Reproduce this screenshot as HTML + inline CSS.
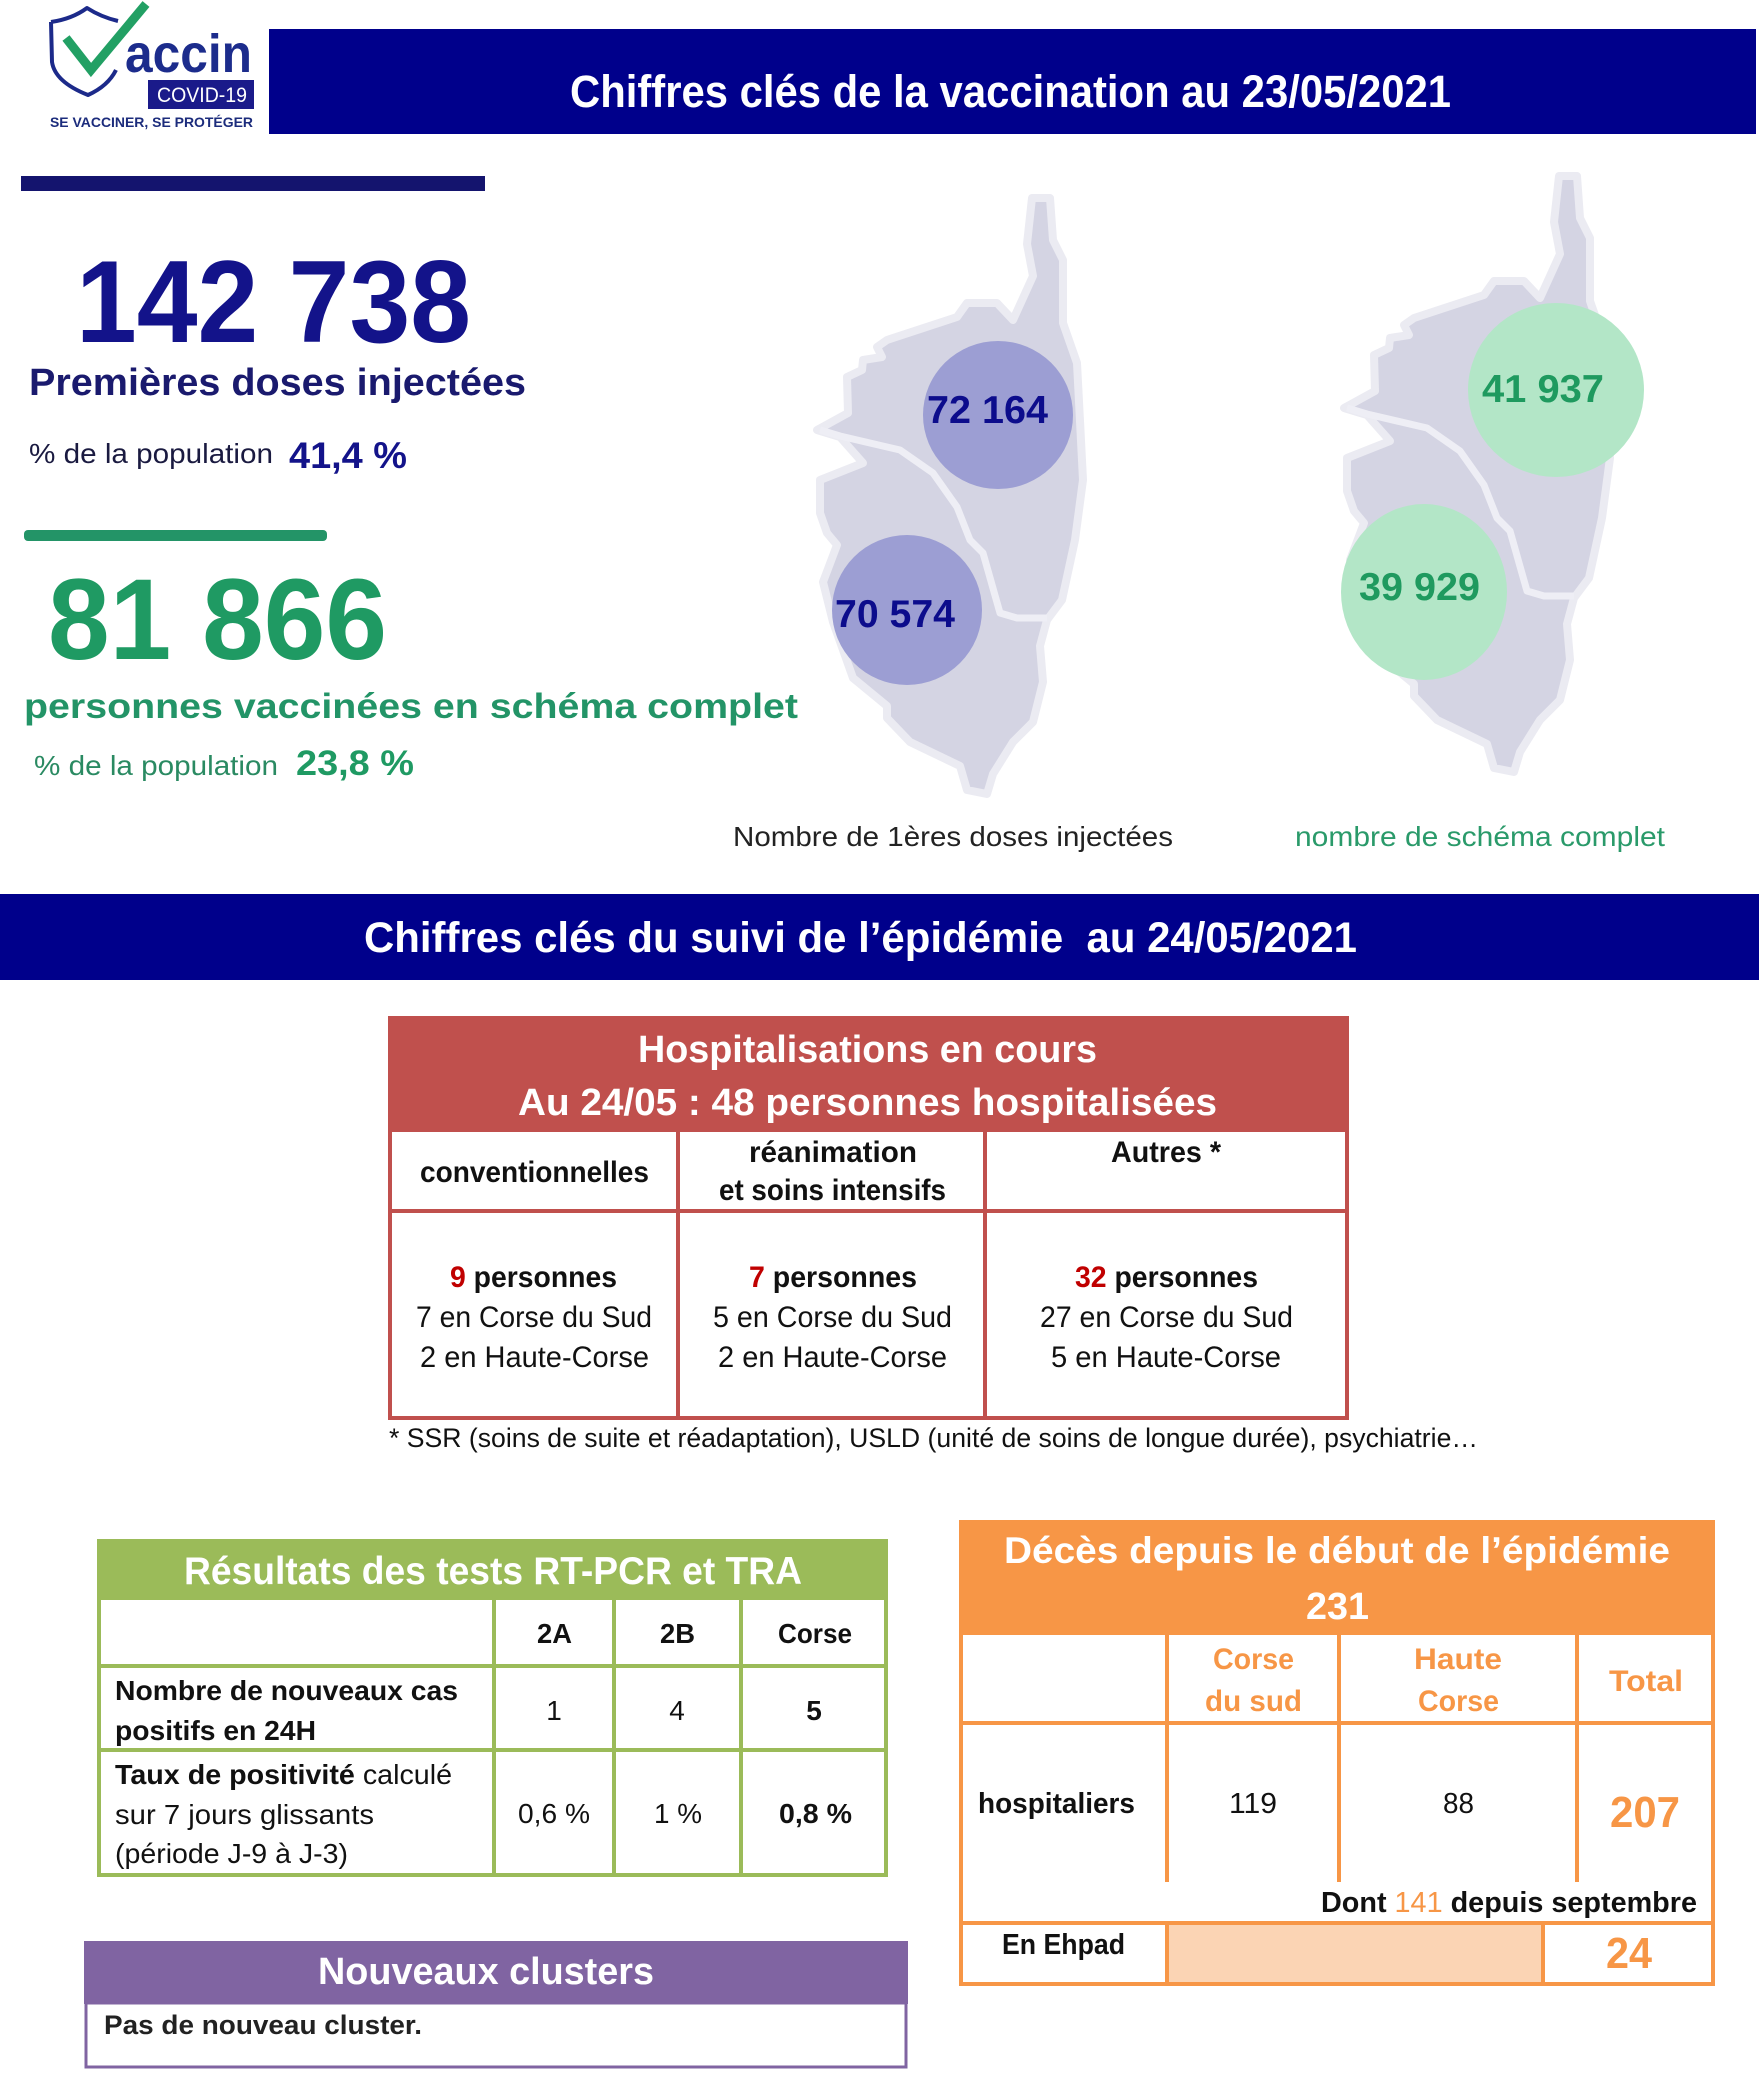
<!DOCTYPE html>
<html>
<head>
<meta charset="utf-8">
<style>
html,body{margin:0;padding:0;background:#fff;}
body{width:1759px;height:2077px;overflow:hidden;}
svg{display:block;}
text{font-family:"Liberation Sans",Arial,sans-serif;}
</style>
</head>
<body>
<svg width="1759" height="2077" viewBox="0 0 1759 2077" xmlns="http://www.w3.org/2000/svg">
<rect x="0" y="0" width="1759" height="2077" fill="#ffffff"/>

<!-- LOGO -->
<path d="M51,22 Q72,19 87,8 Q101,17 118,21" fill="none" stroke="#1c2a8a" stroke-width="4" stroke-linejoin="round"/>
<path d="M51,22 L52,62 Q55,82 88,95 Q108,86 116,70" fill="none" stroke="#1c2a8a" stroke-width="4" stroke-linejoin="round"/>
<path d="M66,38 L91,70 L146,4" fill="none" stroke="#22a064" stroke-width="9" stroke-linejoin="miter"/>
<text x="125" y="72" font-size="54" font-weight="bold" fill="#1c2c8c" textLength="127" lengthAdjust="spacingAndGlyphs">accin</text>
<rect x="148" y="80" width="106" height="29" fill="#1a1a8a"/>
<text x="157" y="102" font-size="21" fill="#ffffff" textLength="90" lengthAdjust="spacingAndGlyphs">COVID-19</text>
<text x="50" y="127" font-size="14" font-weight="bold" fill="#1c2c7c" textLength="203" lengthAdjust="spacingAndGlyphs">SE VACCINER, SE PROTÉGER</text>

<!-- TOP BANNER -->
<rect x="269" y="29" width="1487" height="105" fill="#00008b"/>
<text x="570" y="107" font-size="45" font-weight="bold" fill="#ffffff" textLength="881" lengthAdjust="spacingAndGlyphs">Chiffres clés de la vaccination au 23/05/2021</text>

<!-- LEFT KEY FIGURES -->
<rect x="21" y="176" width="464" height="15" fill="#14146e"/>
<text x="76" y="342" font-size="117" font-weight="bold" fill="#13138a" textLength="395" lengthAdjust="spacingAndGlyphs">142 738</text>
<text x="29" y="395" font-size="38" font-weight="bold" fill="#1a1a6e" textLength="497" lengthAdjust="spacingAndGlyphs">Premières doses injectées</text>
<text x="29" y="463" font-size="28" fill="#1a1a40" textLength="244" lengthAdjust="spacingAndGlyphs">% de la population</text>
<text x="289" y="468" font-size="37" font-weight="bold" fill="#13138a" textLength="118" lengthAdjust="spacingAndGlyphs">41,4 %</text>

<rect x="24" y="530" width="303" height="11" rx="4" fill="#239467"/>
<text x="48" y="659" font-size="115" font-weight="bold" fill="#1f9a63" textLength="339" lengthAdjust="spacingAndGlyphs">81 866</text>
<text x="24" y="718" font-size="35" font-weight="bold" fill="#239467" textLength="774" lengthAdjust="spacingAndGlyphs">personnes vaccinées en schéma complet</text>
<text x="34" y="775" font-size="28" fill="#2a8a62" textLength="244" lengthAdjust="spacingAndGlyphs">% de la population</text>
<text x="296" y="775" font-size="35" font-weight="bold" fill="#1f9a63" textLength="118" lengthAdjust="spacingAndGlyphs">23,8 %</text>

<!-- MAP 1 -->
<g>
<path d="M1032,198 L1027,244 L1033,276 L1013,320 L997,303 L967,303 L957,317 L887,340 L877,347 L882,357 L863,360 L862,370 L847,377 L848,413 L817,430 L840,437 L863,463 L820,480 L820,513 L827,533 L837,545 L823,582 L833,622 L853,678 L887,706 L887,718 L910,742 L960,766 L967,790 L987,794 L993,774 L1013,742 L1033,722 L1043,682 L1040,646 L1047,620 L1062,600 L1075,540 L1083,480 L1080,421 L1077,363 L1063,323 L1063,260 L1053,240 L1050,198 Z" fill="#d4d4e3" stroke="#ebebf2" stroke-width="8" stroke-linejoin="round"/>
<path d="M820,430 L840,436 L900,450 L933,473 L957,507 L970,540 L983,553 L1000,613 L1017,618 L1047,618" fill="none" stroke="#eeeef5" stroke-width="7" stroke-linejoin="round"/>
</g>
<g transform="translate(527,-22)">
<path d="M1032,198 L1027,244 L1033,276 L1013,320 L997,303 L967,303 L957,317 L887,340 L877,347 L882,357 L863,360 L862,370 L847,377 L848,413 L817,430 L840,437 L863,463 L820,480 L820,513 L827,533 L837,545 L823,582 L833,622 L853,678 L887,706 L887,718 L910,742 L960,766 L967,790 L987,794 L993,774 L1013,742 L1033,722 L1043,682 L1040,646 L1047,620 L1062,600 L1075,540 L1083,480 L1080,421 L1077,363 L1063,323 L1063,260 L1053,240 L1050,198 Z" fill="#d4d4e3" stroke="#ebebf2" stroke-width="8" stroke-linejoin="round"/>
<path d="M820,430 L840,436 L900,450 L933,473 L957,507 L970,540 L983,553 L1000,613 L1017,618 L1047,618" fill="none" stroke="#eeeef5" stroke-width="7" stroke-linejoin="round"/>
</g>

<ellipse cx="998" cy="415" rx="75" ry="74" fill="#9c9ed3"/>
<ellipse cx="907" cy="610" rx="75" ry="75" fill="#9c9ed3"/>
<text x="927" y="423" font-size="39" font-weight="bold" fill="#0c0c8c" textLength="121" lengthAdjust="spacingAndGlyphs">72 164</text>
<text x="835" y="627" font-size="39" font-weight="bold" fill="#0c0c8c" textLength="120" lengthAdjust="spacingAndGlyphs">70 574</text>

<ellipse cx="1556" cy="390" rx="88" ry="87" fill="#b3e6c7"/>
<ellipse cx="1424" cy="592" rx="83" ry="88" fill="#b3e6c7"/>
<text x="1482" y="402" font-size="39" font-weight="bold" fill="#1f9a5f" textLength="122" lengthAdjust="spacingAndGlyphs">41 937</text>
<text x="1359" y="600" font-size="39" font-weight="bold" fill="#1f9a5f" textLength="121" lengthAdjust="spacingAndGlyphs">39 929</text>

<text x="733" y="846" font-size="28" fill="#222222" textLength="440" lengthAdjust="spacingAndGlyphs">Nombre de 1ères doses injectées</text>
<text x="1295" y="846" font-size="28" fill="#2a9a6a" textLength="370" lengthAdjust="spacingAndGlyphs">nombre de schéma complet</text>

<!-- SECOND BANNER -->
<rect x="0" y="894" width="1759" height="86" fill="#00008b"/>
<text x="364" y="952" font-size="43" font-weight="bold" fill="#ffffff" textLength="993" lengthAdjust="spacingAndGlyphs">Chiffres clés du suivi de l’épidémie&#160; au 24/05/2021</text>

<!-- HOSPITALISATIONS TABLE -->
<rect x="388" y="1016" width="961" height="116" fill="#c0504d"/>
<rect x="390" y="1018" width="957" height="400" fill="none" stroke="#c0504d" stroke-width="4"/>
<line x1="388" y1="1211" x2="1349" y2="1211" stroke="#c0504d" stroke-width="4"/>
<line x1="678" y1="1132" x2="678" y2="1419" stroke="#c0504d" stroke-width="4"/>
<line x1="985" y1="1132" x2="985" y2="1419" stroke="#c0504d" stroke-width="4"/>
<text x="638" y="1062" font-size="38" font-weight="bold" fill="#ffffff" textLength="459" lengthAdjust="spacingAndGlyphs">Hospitalisations en cours</text>
<text x="518" y="1115" font-size="38" font-weight="bold" fill="#ffffff" textLength="699" lengthAdjust="spacingAndGlyphs">Au 24/05 : 48 personnes hospitalisées</text>
<text x="420" y="1182" font-size="30" font-weight="bold" fill="#111" textLength="229" lengthAdjust="spacingAndGlyphs">conventionnelles</text>
<text x="749" y="1162" font-size="30" font-weight="bold" fill="#111" textLength="168" lengthAdjust="spacingAndGlyphs">réanimation</text>
<text x="719" y="1200" font-size="30" font-weight="bold" fill="#111" textLength="227" lengthAdjust="spacingAndGlyphs">et soins intensifs</text>
<text x="1111" y="1162" font-size="30" font-weight="bold" fill="#111" textLength="110" lengthAdjust="spacingAndGlyphs">Autres *</text>

<text x="450" y="1287" font-size="30" font-weight="bold" fill="#111" textLength="167" lengthAdjust="spacingAndGlyphs"><tspan fill="#c00000">9</tspan> personnes</text>
<text x="416" y="1327" font-size="30" fill="#111" textLength="236" lengthAdjust="spacingAndGlyphs">7 en Corse du Sud</text>
<text x="420" y="1367" font-size="30" fill="#111" textLength="229" lengthAdjust="spacingAndGlyphs">2 en Haute-Corse</text>

<text x="749" y="1287" font-size="30" font-weight="bold" fill="#111" textLength="168" lengthAdjust="spacingAndGlyphs"><tspan fill="#c00000">7</tspan> personnes</text>
<text x="713" y="1327" font-size="30" fill="#111" textLength="239" lengthAdjust="spacingAndGlyphs">5 en Corse du Sud</text>
<text x="718" y="1367" font-size="30" fill="#111" textLength="229" lengthAdjust="spacingAndGlyphs">2 en Haute-Corse</text>

<text x="1075" y="1287" font-size="30" font-weight="bold" fill="#111" textLength="183" lengthAdjust="spacingAndGlyphs"><tspan fill="#c00000">32</tspan> personnes</text>
<text x="1040" y="1327" font-size="30" fill="#111" textLength="253" lengthAdjust="spacingAndGlyphs">27 en Corse du Sud</text>
<text x="1051" y="1367" font-size="30" fill="#111" textLength="230" lengthAdjust="spacingAndGlyphs">5 en Haute-Corse</text>

<text x="389" y="1447" font-size="27" fill="#111" textLength="1089" lengthAdjust="spacingAndGlyphs">* SSR (soins de suite et réadaptation), USLD (unité de soins de longue durée), psychiatrie…</text>

<!-- TESTS TABLE -->
<rect x="97" y="1539" width="791" height="61" fill="#9bbb59"/>
<rect x="99" y="1541" width="787" height="334" fill="none" stroke="#9bbb59" stroke-width="4"/>
<line x1="97" y1="1666" x2="888" y2="1666" stroke="#9bbb59" stroke-width="4"/>
<line x1="97" y1="1750" x2="888" y2="1750" stroke="#9bbb59" stroke-width="4"/>
<line x1="494" y1="1600" x2="494" y2="1876" stroke="#9bbb59" stroke-width="4"/>
<line x1="614" y1="1600" x2="614" y2="1876" stroke="#9bbb59" stroke-width="4"/>
<line x1="741" y1="1600" x2="741" y2="1876" stroke="#9bbb59" stroke-width="4"/>
<text x="184" y="1584" font-size="39" font-weight="bold" fill="#ffffff" textLength="618" lengthAdjust="spacingAndGlyphs">Résultats des tests RT-PCR et TRA</text>
<text x="537" y="1643" font-size="28" font-weight="bold" fill="#111" textLength="35" lengthAdjust="spacingAndGlyphs">2A</text>
<text x="660" y="1643" font-size="28" font-weight="bold" fill="#111" textLength="35" lengthAdjust="spacingAndGlyphs">2B</text>
<text x="778" y="1643" font-size="28" font-weight="bold" fill="#111" textLength="74" lengthAdjust="spacingAndGlyphs">Corse</text>
<text x="115" y="1700" font-size="28" font-weight="bold" fill="#111" textLength="343" lengthAdjust="spacingAndGlyphs">Nombre de nouveaux cas</text>
<text x="115" y="1740" font-size="28" font-weight="bold" fill="#111" textLength="201" lengthAdjust="spacingAndGlyphs">positifs en 24H</text>
<text x="554" y="1720" font-size="28" fill="#111" text-anchor="middle">1</text>
<text x="677" y="1720" font-size="28" fill="#111" text-anchor="middle">4</text>
<text x="814" y="1720" font-size="28" font-weight="bold" fill="#111" text-anchor="middle">5</text>
<text x="115" y="1784" font-size="28" fill="#111" textLength="337" lengthAdjust="spacingAndGlyphs"><tspan font-weight="bold">Taux de positivité</tspan> calculé</text>
<text x="115" y="1824" font-size="28" fill="#111" textLength="259" lengthAdjust="spacingAndGlyphs">sur 7 jours glissants</text>
<text x="115" y="1863" font-size="28" fill="#111" textLength="233" lengthAdjust="spacingAndGlyphs">(période J-9 à J-3)</text>
<text x="518" y="1823" font-size="28" fill="#111" textLength="72" lengthAdjust="spacingAndGlyphs">0,6 %</text>
<text x="654" y="1823" font-size="28" fill="#111" textLength="48" lengthAdjust="spacingAndGlyphs">1 %</text>
<text x="779" y="1823" font-size="28" font-weight="bold" fill="#111" textLength="73" lengthAdjust="spacingAndGlyphs">0,8 %</text>

<!-- CLUSTERS -->
<rect x="84" y="1941" width="824" height="63" fill="#8064a2"/>
<rect x="86" y="2003" width="820" height="64" fill="none" stroke="#8064a2" stroke-width="3"/>
<text x="318" y="1984" font-size="38" font-weight="bold" fill="#ffffff" textLength="336" lengthAdjust="spacingAndGlyphs">Nouveaux clusters</text>
<text x="104" y="2034" font-size="27" font-weight="bold" fill="#222" textLength="318" lengthAdjust="spacingAndGlyphs">Pas de nouveau cluster.</text>

<!-- DEATHS TABLE -->
<rect x="959" y="1520" width="756" height="115" fill="#f79646"/>
<rect x="1167" y="1923" width="376" height="62" fill="#fbd4b4"/>
<rect x="961" y="1522" width="752" height="462" fill="none" stroke="#f79646" stroke-width="4"/>
<line x1="959" y1="1723" x2="1715" y2="1723" stroke="#f79646" stroke-width="4"/>
<line x1="959" y1="1923" x2="1715" y2="1923" stroke="#f79646" stroke-width="4"/>
<line x1="1167" y1="1635" x2="1167" y2="1882" stroke="#f79646" stroke-width="4"/>
<line x1="1339" y1="1635" x2="1339" y2="1882" stroke="#f79646" stroke-width="4"/>
<line x1="1577" y1="1635" x2="1577" y2="1882" stroke="#f79646" stroke-width="4"/>
<line x1="1167" y1="1923" x2="1167" y2="1985" stroke="#f79646" stroke-width="4"/>
<line x1="1543" y1="1923" x2="1543" y2="1985" stroke="#f79646" stroke-width="4"/>
<text x="1004" y="1563" font-size="37" font-weight="bold" fill="#ffffff" textLength="666" lengthAdjust="spacingAndGlyphs">Décès depuis le début de l’épidémie</text>
<text x="1306" y="1619" font-size="38" font-weight="bold" fill="#ffffff" textLength="63" lengthAdjust="spacingAndGlyphs">231</text>
<text x="1213" y="1669" font-size="30" font-weight="bold" fill="#f79646" textLength="81" lengthAdjust="spacingAndGlyphs">Corse</text>
<text x="1205" y="1711" font-size="30" font-weight="bold" fill="#f79646" textLength="97" lengthAdjust="spacingAndGlyphs">du sud</text>
<text x="1414" y="1669" font-size="30" font-weight="bold" fill="#f79646" textLength="88" lengthAdjust="spacingAndGlyphs">Haute</text>
<text x="1418" y="1711" font-size="30" font-weight="bold" fill="#f79646" textLength="81" lengthAdjust="spacingAndGlyphs">Corse</text>
<text x="1609" y="1691" font-size="30" font-weight="bold" fill="#f79646" textLength="74" lengthAdjust="spacingAndGlyphs">Total</text>
<text x="978" y="1813" font-size="29" font-weight="bold" fill="#111" textLength="157" lengthAdjust="spacingAndGlyphs">hospitaliers</text>
<text x="1229" y="1813" font-size="29" fill="#111" textLength="48" lengthAdjust="spacingAndGlyphs">119</text>
<text x="1443" y="1813" font-size="29" fill="#111" textLength="31" lengthAdjust="spacingAndGlyphs">88</text>
<text x="1610" y="1827" font-size="44" font-weight="bold" fill="#f79646" textLength="70" lengthAdjust="spacingAndGlyphs">207</text>
<text x="1321" y="1912" font-size="29" font-weight="bold" fill="#111" textLength="376" lengthAdjust="spacingAndGlyphs">Dont <tspan fill="#f79646" font-weight="normal">141</tspan> depuis septembre</text>
<text x="1002" y="1954" font-size="29" font-weight="bold" fill="#111" textLength="123" lengthAdjust="spacingAndGlyphs">En Ehpad</text>
<text x="1606" y="1968" font-size="44" font-weight="bold" fill="#f79646" textLength="46" lengthAdjust="spacingAndGlyphs">24</text>
</svg>
</body>
</html>
